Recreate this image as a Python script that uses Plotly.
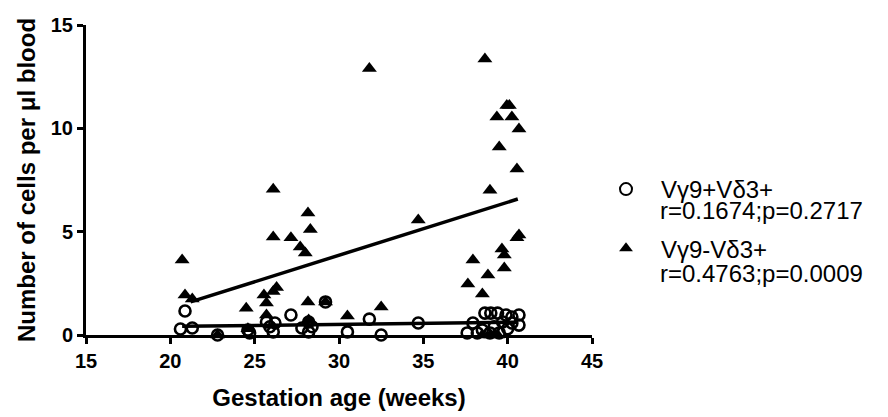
import plotly.graph_objects as go

# Vγ9-Vδ3+ (filled triangles)
tri_x = [20.7, 20.87, 21.3, 22.8, 24.5, 24.6, 25.55, 25.7, 25.7, 26.1, 26.1, 26.1,
         26.3, 27.15, 27.7, 28.0, 28.16, 28.3, 28.16, 28.2, 29.2, 30.5, 31.8, 32.5,
         34.7, 37.64, 37.94, 38.5, 38.65, 38.83, 38.95, 39.36, 39.5, 39.66, 39.8,
         39.8, 39.95, 40.1, 40.25, 40.67, 40.55, 40.67, 40.55, 38.5, 39.0, 39.4]
tri_y = [3.63, 1.94, 1.74, 0.0, 1.3, 0.3, 1.94, 1.55, 0.97, 7.05, 4.74, 2.1,
         2.3, 4.7, 4.26, 3.97, 5.9, 5.1, 1.6, 0.73, 1.6, 0.92, 12.9, 1.36,
         5.56, 2.47, 3.63, 1.98, 13.35, 2.9, 7.0, 10.55, 9.1, 4.16, 3.87,
         3.24, 11.1, 11.1, 10.55, 9.97, 8.03, 4.84, 4.7, 0.0, 0.0, 0.0]

# Vγ9+Vδ3+ (open circles)
cir_x = [20.87, 20.6, 21.3, 22.8, 24.6, 24.7, 25.7, 26.2, 26.1, 25.9, 27.15, 27.8,
         28.2, 28.2, 28.4, 29.2, 30.5, 31.8, 32.5, 34.7, 37.6, 37.94, 38.65, 39.0,
         39.4, 39.9, 40.25, 40.67, 40.67, 40.25, 39.7, 38.5, 38.2, 38.95, 39.5,
         39.2, 40.0]
cir_y = [1.16, 0.29, 0.34, 0.0, 0.24, 0.1, 0.63, 0.58, 0.15, 0.4, 0.97, 0.34,
         0.63, 0.15, 0.4, 1.6, 0.15, 0.77, 0.0, 0.58, 0.1, 0.58, 1.06, 1.06,
         1.06, 0.97, 0.87, 0.97, 0.48, 0.58, 0.63, 0.24, 0.1, 0.1, 0.1,
         0.4, 0.3]

# regression lines (end points)
fit_tri_x = [21.2, 40.6]
fit_tri_y = [1.6, 6.58]
fit_cir_x = [20.7, 40.6]
fit_cir_y = [0.42, 0.62]

x_ticks = [15, 20, 25, 30, 35, 40, 45]
y_ticks = [0, 5, 10, 15]

name_cir = "Vγ9+Vδ3+"
name_tri = "Vγ9-Vδ3+"
stat_cir = "r=0.1674;p=0.2717"
stat_tri = "r=0.4763;p=0.0009"

FONT = "Liberation Sans, Arial, sans-serif"
OFF = 8  # page body margin offset
W, H = 888, 417
PW, PH = 506, 310
L, T = 86 - OFF, 25 - OFF
R, B = W - L - PW, H - T - PH

def px_x(px):
    return (px - OFF - L) / PW

def px_y(py):
    return (T + PH - (py - OFF)) / PH

fig = go.Figure()
fig.add_trace(go.Scatter(x=fit_cir_x, y=fit_cir_y, mode="lines",
                         line=dict(color="black", width=3.5), showlegend=False,
                         hoverinfo="skip"))
fig.add_trace(go.Scatter(x=fit_tri_x, y=fit_tri_y, mode="lines",
                         line=dict(color="black", width=3.5), showlegend=False,
                         hoverinfo="skip"))
fig.add_trace(go.Scatter(x=cir_x, y=cir_y, mode="markers", name=name_cir,
                         legendgroup="a", cliponaxis=False,
                         marker=dict(symbol="circle-open", size=11, color="black",
                                     line=dict(width=2.6, color="black"))))
fig.add_trace(go.Scatter(x=tri_x, y=tri_y, mode="markers", name=name_tri,
                         legendgroup="b", cliponaxis=False,
                         marker=dict(symbol="triangle-up", size=13, color="black",
                                     line=dict(width=0))))

axis_common = dict(showline=True, linecolor="black", linewidth=3,
                   ticks="outside", ticklen=6, tickwidth=3, tickcolor="black",
                   showgrid=False, zeroline=False, automargin=False,
                   tickfont=dict(family=FONT, size=20, color="black"))

fig.update_xaxes(range=[15, 45], tickvals=x_ticks,
                 ticktext=["<b>%d</b>" % v for v in x_ticks],
                 title=dict(text="<b>Gestation age (weeks)</b>", standoff=19,
                            font=dict(family=FONT, size=24, color="black")),
                 **axis_common)
fig.update_yaxes(range=[0, 15], tickvals=y_ticks,
                 ticktext=["<b>%d</b>" % v for v in y_ticks],
                 title=dict(text="<b>Number of cells per μl blood</b>", standoff=9,
                            font=dict(family=FONT, size=24, color="black")),
                 **axis_common)

fig.add_annotation(text=stat_cir, xref="paper", yref="paper",
                   x=px_x(658), y=px_y(210), xanchor="left", yanchor="middle",
                   showarrow=False, font=dict(family=FONT, size=24, color="black"))
fig.add_annotation(text=stat_tri, xref="paper", yref="paper",
                   x=px_x(658), y=px_y(273.5), xanchor="left", yanchor="middle",
                   showarrow=False, font=dict(family=FONT, size=24, color="black"))

fig.update_layout(
    width=W, height=H,
    margin=dict(l=L, r=R, t=T, b=B),
    plot_bgcolor="white", paper_bgcolor="white",
    font=dict(family=FONT, color="black"),
    legend=dict(x=px_x(591), xanchor="left", y=px_y(167), yanchor="top",
                font=dict(family=FONT, size=24, color="black"),
                itemwidth=60, tracegroupgap=25, bgcolor="rgba(0,0,0,0)",
                itemsizing="constant"),
)

fig.write_html("out.html")
